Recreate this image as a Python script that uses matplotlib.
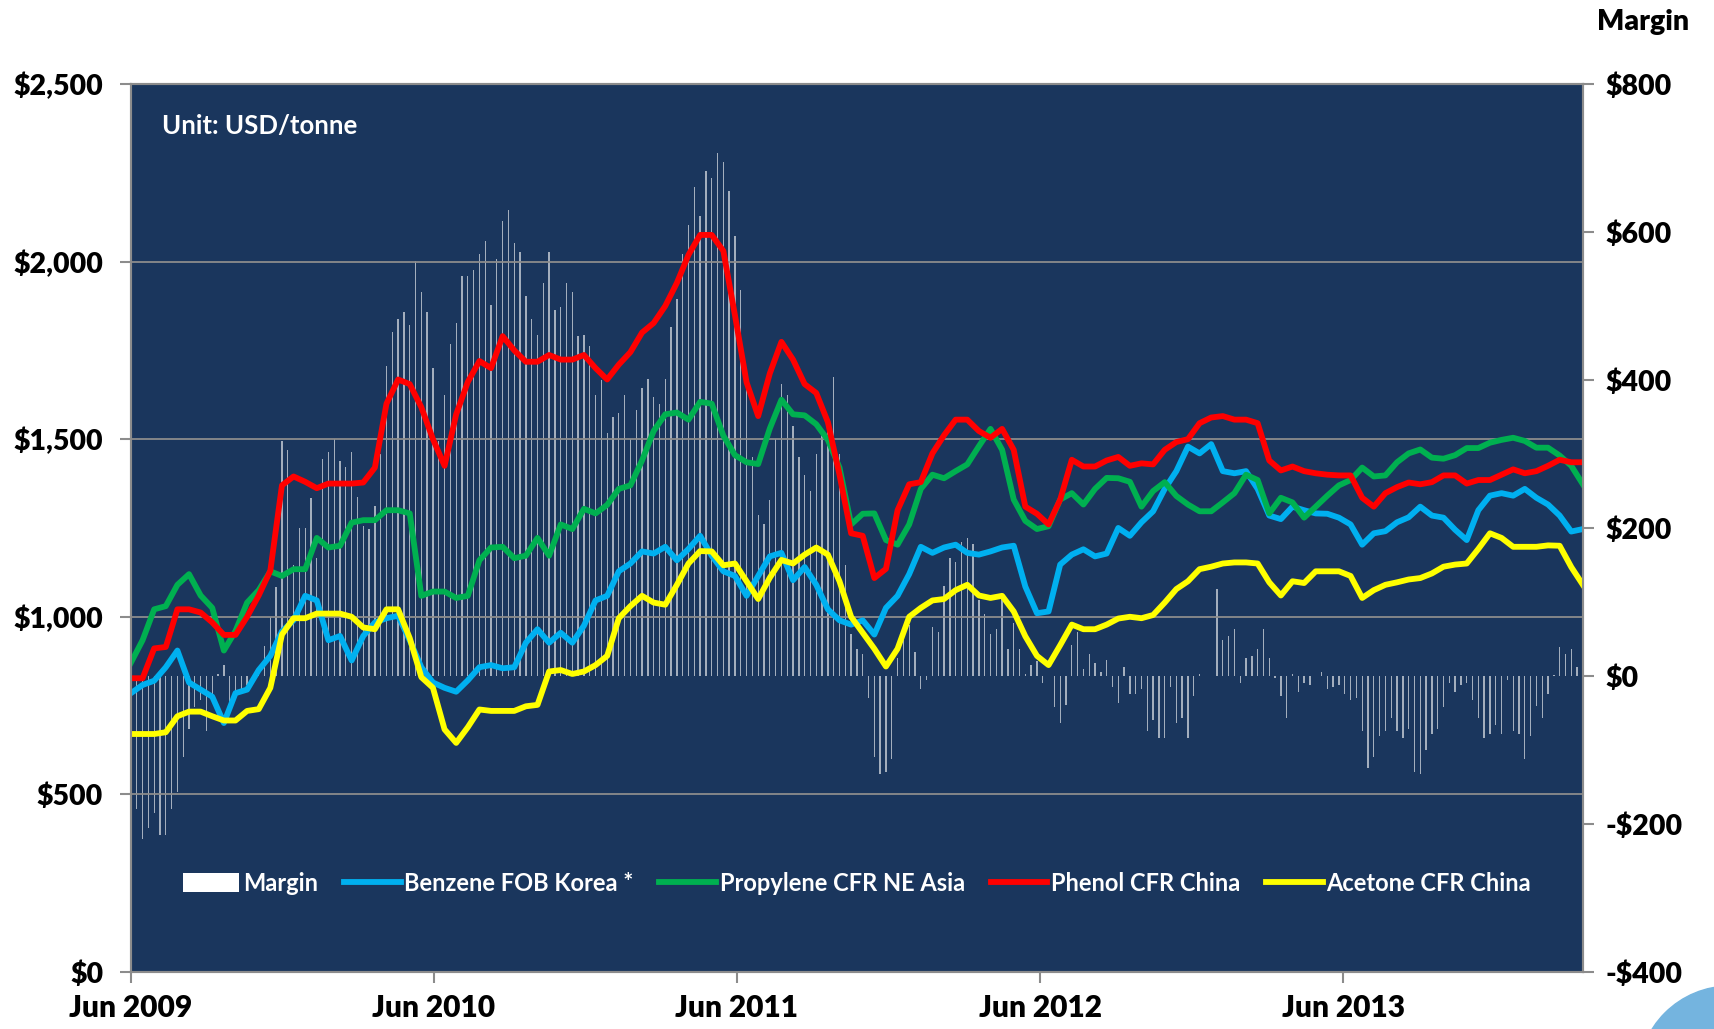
import matplotlib
matplotlib.use('Agg')
import matplotlib.pyplot as plt
import matplotlib.dates as mdates
from matplotlib.patches import Patch, Ellipse
from matplotlib.ticker import FuncFormatter, MultipleLocator
import pandas as pd

plt.rcParams['font.family'] = ['Lato', 'DejaVu Sans']

# weekly margin bars, prices read every second week
weeks = pd.date_range('2009-06-01', periods=251, freq='7D')
price_dates = weeks[::2]

margin = [
    -120, -180, -220, -205, -185, -215, -215, -180, -157, -109,
    -72, -42, -33, -75, -36, 3, 15, -40, -25, -18,
    -12, -6, 10, 40, 80, 120, 318, 306, 150, 200,
    200, 240, 160, 293, 302, 320, 290, 283, 302, 242,
    202, 199, 230, 300, 419, 465, 483, 492, 474, 561,
    519, 492, 416, 317, 380, 449, 477, 540, 540, 549,
    570, 588, 501, 564, 615, 630, 585, 573, 513, 483,
    461, 531, 573, 495, 498, 531, 519, 459, 461, 446,
    380, 400, 329, 350, 356, 380, 320, 359, 389, 401,
    377, 368, 401, 471, 510, 570, 609, 661, 621, 682,
    673, 707, 695, 656, 594, 522, 400, 296, 217, 205,
    238, 320, 395, 380, 338, 296, 271, 250, 300, 330,
    340, 404, 300, 150, 57, 36, 30, -30, -109, -133,
    -130, -112, 24, 48, 69, 33, -18, -6, 66, 60,
    121, 160, 154, 181, 187, 178, 103, 84, 57, 63,
    106, 36, 72, 36, 3, 15, 20, -9, 0, -42,
    -63, -39, 42, 60, 9, 30, 18, 5, 21, -15,
    -36, 12, -24, -24, -18, -75, -60, -84, -84, -15,
    -63, -57, -84, -27, 3, 0, 0, 118, 48, 54,
    63, -9, 24, 27, 36, 63, 24, -3, -27, -57,
    3, -21, -9, -12, 0, 5, -18, -15, -12, -24,
    -33, -30, -75, -124, -109, -81, -75, -57, -75, -84,
    -72, -130, -133, -100, -78, -72, -42, -9, -21, -12,
    -9, -33, -57, -84, -78, -66, -78, -5, -75, -78,
    -112, -81, -40, -57, -24, 1, 39, 30, 36, 12,
    24,
]

benzene = [
    785, 808, 820, 858, 905, 815, 795, 775, 701, 785, 795, 850, 890, 959, 990, 1059,
    1046, 934, 946, 877, 946, 984,
    996, 1003, 934, 858, 815, 800, 789, 821, 858, 864, 855, 858, 927, 965, 927, 955,
    927, 975, 1046, 1059, 1128,
    1150, 1184, 1178, 1197, 1159, 1191, 1228, 1172, 1128, 1115, 1059, 1115, 1170, 1180,
    1103, 1140, 1090, 1021, 990, 978,
    990, 950, 1025, 1059, 1120, 1197, 1180, 1195, 1203, 1180, 1175, 1184, 1195, 1200,
    1085, 1010, 1015, 1147, 1175, 1190, 1170,
    1178, 1250, 1228, 1266, 1297, 1360, 1410, 1479, 1460, 1486, 1410, 1404, 1410, 1360,
    1285, 1275, 1310, 1300, 1291, 1290, 1279,
    1260, 1203, 1235, 1241, 1266, 1280, 1310, 1285, 1279, 1245, 1216, 1300, 1341, 1348,
    1341, 1360, 1335, 1316, 1285, 1240, 1247,
]

propylene = [
    871, 934, 1021, 1030, 1090, 1120, 1060, 1025, 905, 960, 1040, 1075, 1128, 1115,
    1134, 1134, 1222, 1195, 1200, 1265, 1272, 1272,
    1300, 1300, 1291, 1059, 1071, 1071, 1053, 1059, 1159, 1195, 1197, 1165, 1172, 1222,
    1172, 1260, 1247, 1304, 1291, 1315, 1360,
    1370, 1440, 1523, 1570, 1575, 1555, 1605, 1600, 1510, 1455, 1435, 1430, 1530, 1611,
    1570, 1567, 1542, 1498, 1420, 1260,
    1290, 1291, 1216, 1203, 1260, 1360, 1400, 1390, 1410, 1429, 1480, 1529, 1470, 1330,
    1270, 1247, 1255, 1330, 1348, 1316, 1360,
    1391, 1390, 1380, 1310, 1354, 1379, 1340, 1316, 1297, 1297, 1322, 1348, 1400, 1385,
    1291, 1335, 1322, 1279, 1310, 1341, 1370,
    1385, 1420, 1395, 1398, 1435, 1460, 1471, 1448, 1445, 1455, 1475, 1475, 1490, 1498,
    1504, 1495, 1476, 1476, 1454, 1425, 1373,
]

phenol = [
    827, 827, 911, 915, 1021, 1021, 1012, 984, 949, 949, 1000, 1060, 1130, 1370,
    1395, 1380, 1362, 1375, 1375, 1375, 1378, 1420,
    1600, 1668, 1655, 1590, 1500, 1425, 1570, 1661, 1720, 1700, 1790, 1750, 1718, 1718,
    1737, 1724, 1724, 1737, 1700, 1668, 1710,
    1745, 1800, 1827, 1875, 1940, 2019, 2075, 2075, 2030, 1849, 1660, 1565, 1685, 1774,
    1724, 1655, 1630, 1548, 1400, 1235,
    1228, 1109, 1135, 1300, 1373, 1379, 1460, 1511, 1555, 1555, 1523, 1504, 1529, 1470,
    1310, 1290, 1260, 1330, 1442, 1423, 1423,
    1440, 1450, 1425, 1432, 1429, 1470, 1492, 1500, 1545, 1561, 1565, 1555, 1555, 1545,
    1440, 1412, 1423, 1410, 1404, 1400, 1398,
    1398, 1335, 1310, 1348, 1365, 1378, 1373, 1379, 1398, 1398, 1375, 1385, 1385, 1400,
    1415, 1404, 1410, 1425, 1442, 1435, 1435,
]

acetone = [
    670, 670, 670, 675, 720, 733, 733, 720, 708, 708, 735, 740, 800, 950, 996, 996,
    1009, 1009, 1009, 1000, 970, 965,
    1021, 1021, 940, 830, 800, 683, 645, 689, 739, 735, 735, 735, 748, 752, 846, 850,
    839, 846, 864, 890, 996,
    1030, 1059, 1040, 1034, 1090, 1150, 1185, 1184, 1145, 1150, 1100, 1050, 1110, 1160,
    1150, 1175, 1195, 1175, 1100, 1000,
    955, 910, 860, 910, 1000, 1025, 1046, 1050, 1075, 1090, 1060, 1053, 1059, 1015,
    945, 890, 864, 920, 978, 965, 965,
    978, 995, 1000, 996, 1005, 1040, 1078, 1100, 1134, 1141, 1150, 1153, 1153, 1150,
    1097, 1060, 1100, 1095, 1128, 1128, 1128,
    1115, 1053, 1075, 1090, 1097, 1105, 1109, 1122, 1141, 1147, 1150, 1191, 1235, 1222,
    1197, 1197, 1197, 1201, 1200, 1140, 1090,
]

series = [
    ('Benzene FOB Korea *', benzene, '#00B0F0'),
    ('Propylene CFR NE Asia', propylene, '#00B050'),
    ('Phenol CFR China', phenol, '#FF0000'),
    ('Acetone CFR China', acetone, '#FFFF00'),
]

navy = '#1A365D'
edge_gray = '#8C8C8C'

fig = plt.figure(figsize=(17.14, 10.29), dpi=100)
ax = fig.add_axes([0.0764, 0.0554, 0.8471, 0.8630])
ax2 = ax.twinx()

# lines on top of the margin bars
ax.set_zorder(2)
ax2.set_zorder(1)
ax.patch.set_visible(False)
ax2.patch.set_visible(True)
ax2.patch.set_facecolor(navy)

ax2.bar(weeks, margin, width=1.6, color='white', alpha=0.6, linewidth=0)

for label, values, color in series:
    ax.plot(price_dates, values, color=color, lw=4.2, label=label,
            solid_joinstyle='round')

ax.set_xlim(weeks[0], weeks[-1])
ax.set_ylim(0, 2500)
ax2.set_ylim(-400, 800)

ax.yaxis.set_major_locator(MultipleLocator(500))
ax2.yaxis.set_major_locator(MultipleLocator(200))
ax.yaxis.set_major_formatter(FuncFormatter(lambda v, _: f'${v:,.0f}'))
ax2.yaxis.set_major_formatter(FuncFormatter(
    lambda v, _: f'-${-v:,.0f}' if v < 0 else f'${v:,.0f}'))

ax.xaxis.set_major_locator(mdates.MonthLocator(bymonth=6, bymonthday=1))
ax.xaxis.set_major_formatter(mdates.DateFormatter('%b %Y'))

ax.yaxis.grid(True, color=edge_gray, lw=1.3)
ax.xaxis.grid(False)

for a in (ax, ax2):
    for s in a.spines.values():
        s.set_color(edge_gray)
        s.set_linewidth(1.5)
    a.tick_params(length=8, width=1.5, color=edge_gray, labelsize=20.5)
    for t in a.get_xticklabels() + a.get_yticklabels():
        t.set_fontweight('heavy')

ax.tick_params(axis='x', labelsize=21.5, pad=8)
ax.tick_params(axis='y', pad=12)
ax2.tick_params(axis='y', pad=8)

ax.text(0.0213, 0.9527, 'Unit: USD/tonne', transform=ax.transAxes,
        color='white', fontsize=18.5, fontweight='bold', va='center')
fig.text(0.9586, 0.9786, 'Margin', ha='center', va='center',
         fontsize=20.5, fontweight='heavy')

handles = [Patch(facecolor='white', edgecolor='none')] + ax.get_lines()
labels = ['Margin'] + [s[0] for s in series]
leg = ax.legend(handles, labels, loc='center', bbox_to_anchor=(0.5, 0.10),
                ncol=5, frameon=False, fontsize=17, labelcolor='white',
                handlelength=2.4, handleheight=0.9, handletextpad=0.15,
                columnspacing=1.1)
for t in leg.get_texts():
    t.set_fontweight('bold')

# light blue corner decoration of the slide
fig.add_artist(Ellipse((1730 / 1714, 1 - 1078 / 1029), 2 * 92 / 1714, 2 * 92 / 1029,
                       transform=fig.transFigure, color='#74B4DF'))

fig.savefig('out.png', dpi=100)
